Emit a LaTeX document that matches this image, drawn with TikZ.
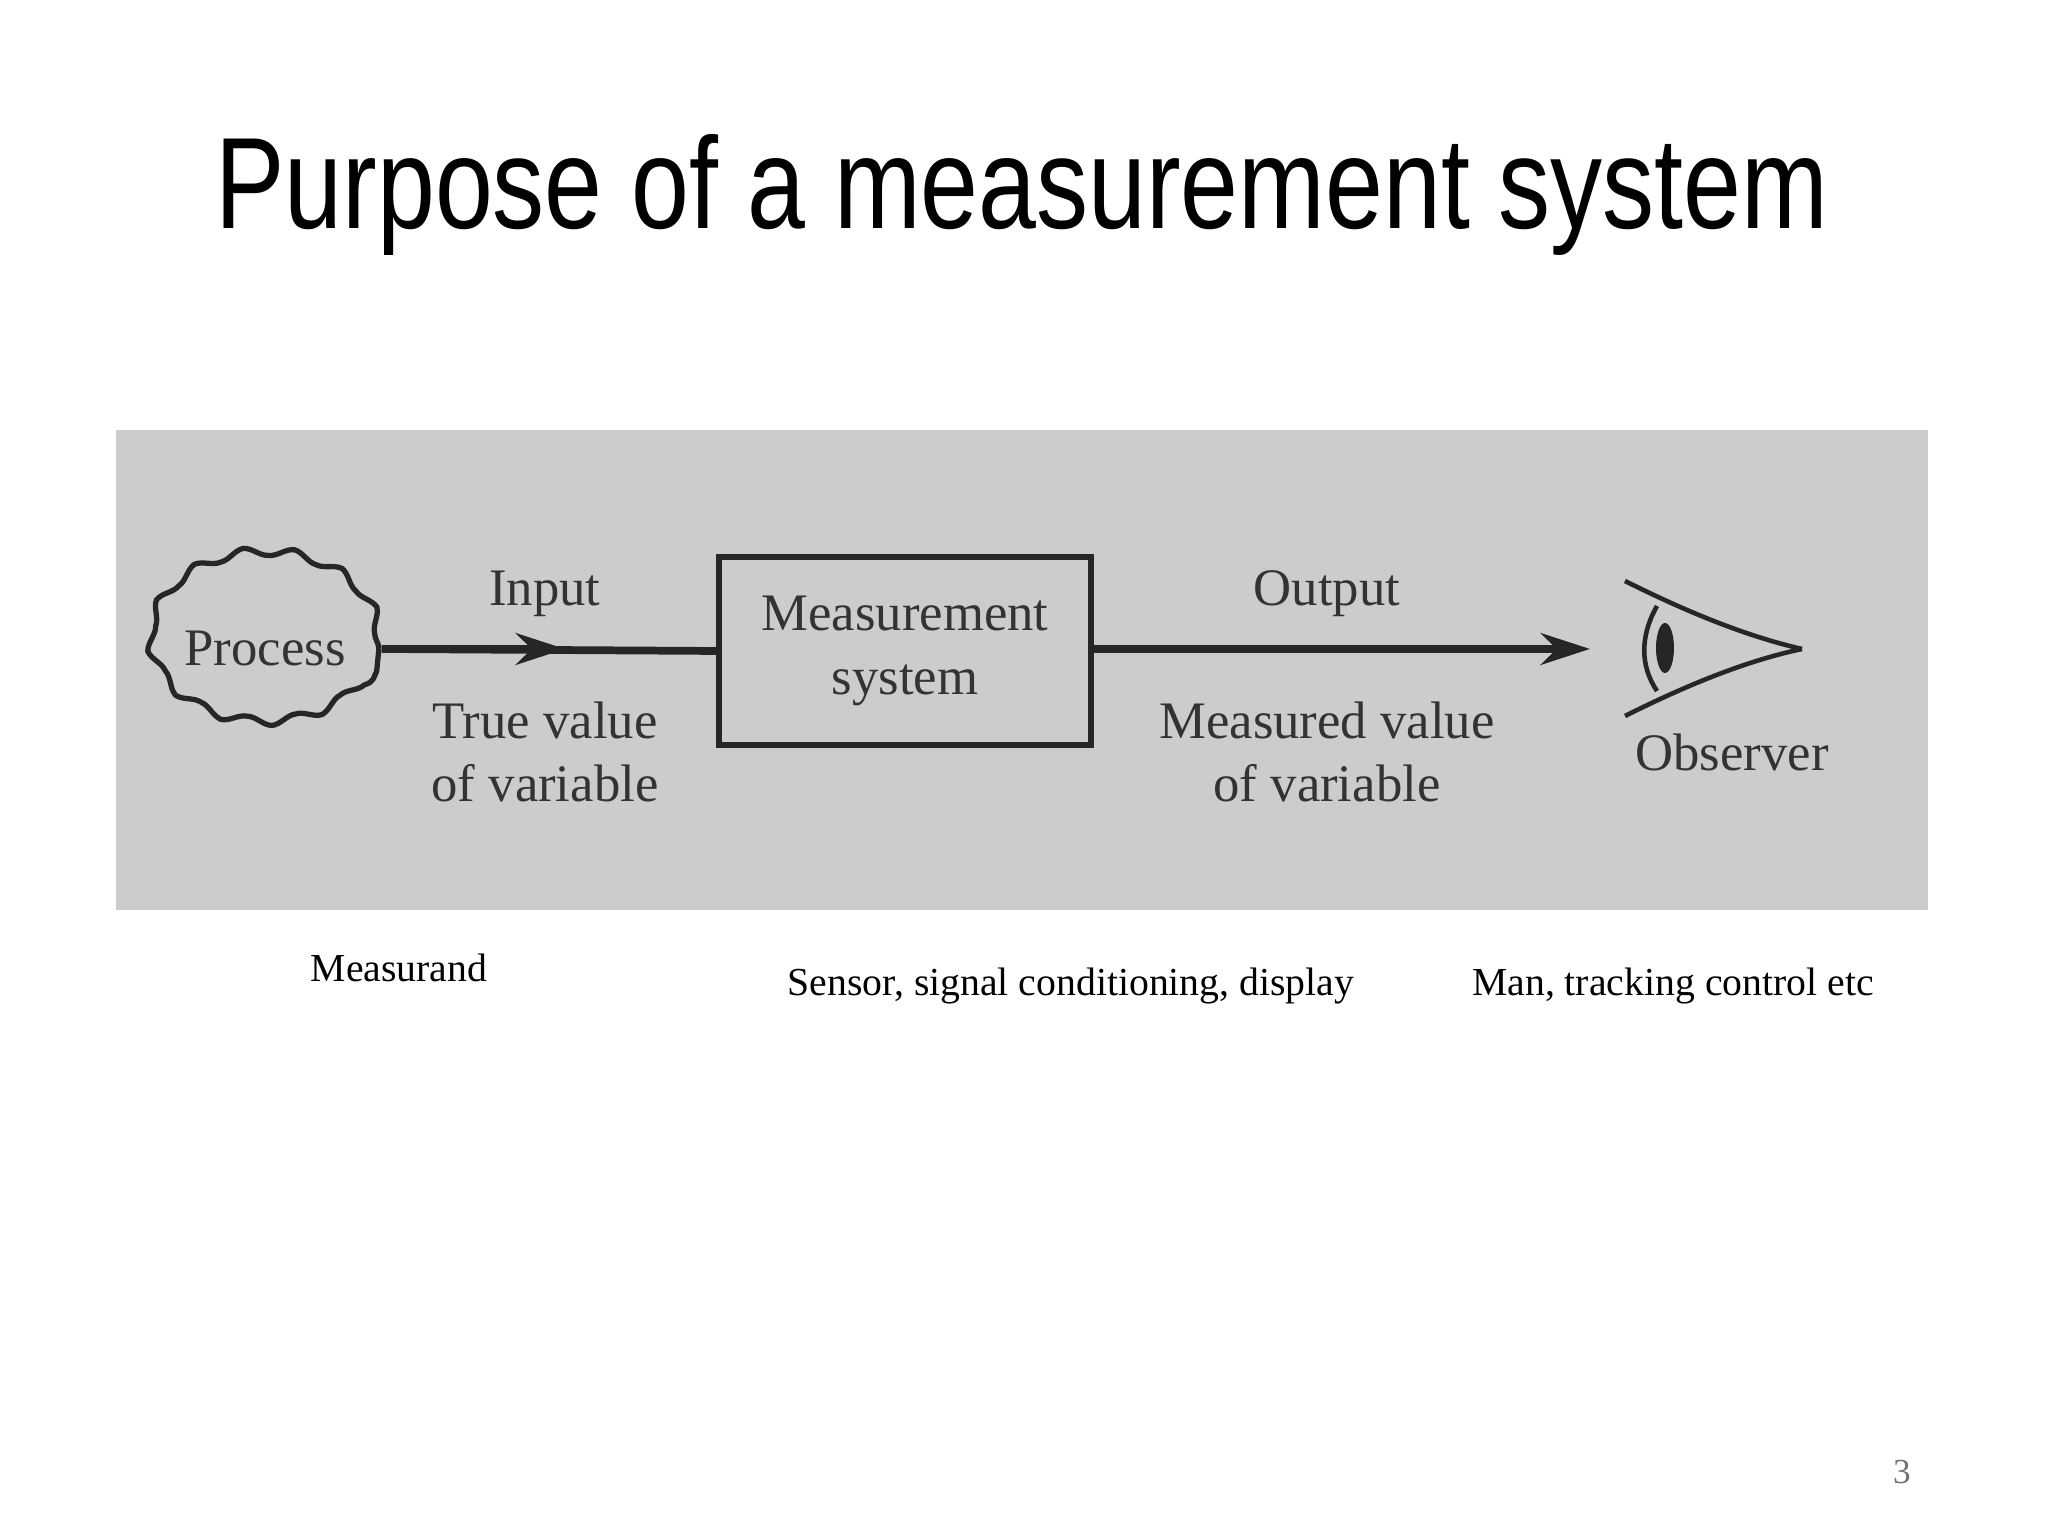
\documentclass[tikz,border=0pt]{standalone}
\usepackage{fontspec}
\setmainfont{Liberation Serif}
\newfontfamily\titlefont{Liberation Sans}
\usetikzlibrary{positioning,shapes.geometric,decorations.pathmorphing,arrows.meta}
\tikzset{
  graytext/.style={font=\fontsize{15}{18}\selectfont, text=black!80, align=center},
  notetext/.style={font=\fontsize{11.3}{14}\selectfont},
  flow/.style={line width=2.2pt, black!85},
}
\begin{document}
\begin{tikzpicture}

  % Page and frame
  \useasboundingbox (0,0) rectangle (20.48,15.36);
  \fill[white] (0,0) rectangle (20.48,15.36);
  \node[font=\titlefont\fontsize{37}{40}\selectfont] (title) at (10.22,13.41)
    {\scalebox{0.8}[1]{Purpose of a measurement system}};
  \fill[black!20] (1.16,6.26) rectangle (19.28,11.06);

  % Process
  \node[ellipse, minimum width=1.85cm, minimum height=1.7cm, draw=black!85, line width=1.5pt,
        decorate, decoration={snake, amplitude=1.2pt, segment length=0.5cm},
        graytext, inner sep=0pt] (proc) at (2.65,8.87) {Process};

  % Measurement system
  \node[draw=black!85, line width=1.8pt, minimum width=3.72cm, minimum height=1.88cm,
        graytext] (ms) at (9.05,8.85) {Measurement\\system};

  % Observer (eye)
  \coordinate (eye) at (15.90,8.87);
  \coordinate (tip) at (18.02,8.87);
  \draw[line width=1.3pt, black!85] (16.25,9.55) .. controls (16.85,9.25) and (17.45,9.0) .. (tip);
  \draw[line width=1.3pt, black!85] (16.25,8.20) .. controls (16.85,8.5) and (17.45,8.75) .. (tip);
  \draw[line width=1.3pt, black!85] (16.57,9.30) .. controls (16.40,9.0) and (16.40,8.7) .. (16.57,8.45);
  \fill[black!85] (16.65,8.88) ellipse [x radius=0.09, y radius=0.25];

  % Connectors
  \draw[flow] (proc.east) -- (ms.west);
  \draw[-{Stealth[length=14pt,width=9pt]}, flow] (proc.east) -- (5.65,8.87);
  \draw[-{Stealth[length=14pt,width=9pt]}, flow] (ms.east |- eye) -- (eye);

  % Annotations
  \node[graytext] (inp) at (5.45,9.42) {Input};
  \node[graytext] (tv) at (5.45,7.84) {True value\\of variable};
  \node[graytext] (outp) at (13.27,9.42) {Output};
  \node[graytext] (mv) at (13.27,7.84) {Measured value\\of variable};
  \node[graytext] (obs) at (17.32,7.84) {Observer};

  % Notes below
  \node[notetext] (n1) at (3.99,5.68) {Measurand};
  \node[notetext] (n2) at (10.71,5.50) {Sensor, signal conditioning, display};
  \node[notetext] (n3) at (16.73,5.50) {Man, tracking control etc};
  \node[font=\fontsize{10}{12}\selectfont, text=black!55] (pg) at (19.02,0.64) {3};

\end{tikzpicture}
\end{document}
